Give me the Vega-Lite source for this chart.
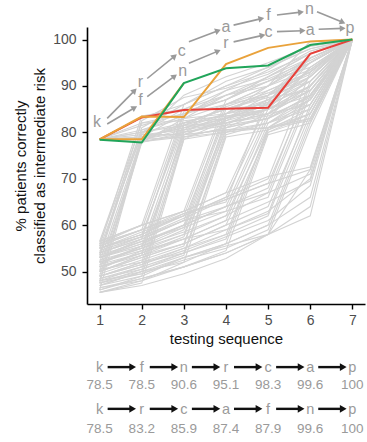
{
  "$schema": "https://vega.github.io/schema/vega-lite/v6.json",
  "width": 278,
  "height": 277,
  "autosize": {"type": "none"},
  "padding": {"left": 87, "top": 27, "right": 2, "bottom": 138},
  "config": {
    "view": {"stroke": null},
    "font": "Liberation Sans",
    "axis": {
      "grid": false,
      "domainColor": "#000000",
      "domainWidth": 1.6,
      "tickColor": "#000000",
      "tickWidth": 1.4,
      "tickSize": 5,
      "labelFont": "Liberation Sans",
      "labelFontSize": 14,
      "labelColor": "#4d4d4d",
      "titleFont": "Liberation Sans",
      "titleFontSize": 15,
      "titleFontWeight": "normal",
      "titleColor": "#111111"
    }
  },
  "datasets": {
    "gray": [
      {"id":"A1","x":1,"y":78.5},{"id":"A1","x":2,"y":78.5},{"id":"A1","x":3,"y":80.5},{"id":"A1","x":4,"y":83},{"id":"A1","x":5,"y":86},{"id":"A1","x":6,"y":92},{"id":"A1","x":7,"y":100},
      {"id":"A2","x":1,"y":78.5},{"id":"A2","x":2,"y":79},{"id":"A2","x":3,"y":81},{"id":"A2","x":4,"y":82},{"id":"A2","x":5,"y":84},{"id":"A2","x":6,"y":90},{"id":"A2","x":7,"y":100},
      {"id":"A3","x":1,"y":78.5},{"id":"A3","x":2,"y":80.5},{"id":"A3","x":3,"y":83},{"id":"A3","x":4,"y":88},{"id":"A3","x":5,"y":91},{"id":"A3","x":6,"y":96},{"id":"A3","x":7,"y":100},
      {"id":"A4","x":1,"y":78.5},{"id":"A4","x":2,"y":77.8},{"id":"A4","x":3,"y":80},{"id":"A4","x":4,"y":84},{"id":"A4","x":5,"y":89},{"id":"A4","x":6,"y":93},{"id":"A4","x":7,"y":100},
      {"id":"A5","x":1,"y":78.5},{"id":"A5","x":2,"y":83.2},{"id":"A5","x":3,"y":86},{"id":"A5","x":4,"y":90},{"id":"A5","x":5,"y":93},{"id":"A5","x":6,"y":97},{"id":"A5","x":7,"y":100},
      {"id":"A6","x":1,"y":78.5},{"id":"A6","x":2,"y":79.5},{"id":"A6","x":3,"y":88},{"id":"A6","x":4,"y":92},{"id":"A6","x":5,"y":95},{"id":"A6","x":6,"y":98.5},{"id":"A6","x":7,"y":100},
      {"id":"A7","x":1,"y":78.5},{"id":"A7","x":2,"y":78},{"id":"A7","x":3,"y":79.5},{"id":"A7","x":4,"y":80.5},{"id":"A7","x":5,"y":82},{"id":"A7","x":6,"y":86},{"id":"A7","x":7,"y":100},
      {"id":"A8","x":1,"y":78.5},{"id":"A8","x":2,"y":81.5},{"id":"A8","x":3,"y":84},{"id":"A8","x":4,"y":86},{"id":"A8","x":5,"y":88},{"id":"A8","x":6,"y":95},{"id":"A8","x":7,"y":100},
      {"id":"A9","x":1,"y":78.5},{"id":"A9","x":2,"y":78.5},{"id":"A9","x":3,"y":82},{"id":"A9","x":4,"y":85},{"id":"A9","x":5,"y":87.5},{"id":"A9","x":6,"y":89},{"id":"A9","x":7,"y":100},
      {"id":"A10","x":1,"y":78.5},{"id":"A10","x":2,"y":80},{"id":"A10","x":3,"y":85},{"id":"A10","x":4,"y":89},{"id":"A10","x":5,"y":93.5},{"id":"A10","x":6,"y":99},{"id":"A10","x":7,"y":100},
      {"id":"A11","x":1,"y":78.5},{"id":"A11","x":2,"y":79},{"id":"A11","x":3,"y":84},{"id":"A11","x":4,"y":87},{"id":"A11","x":5,"y":91},{"id":"A11","x":6,"y":94},{"id":"A11","x":7,"y":100},
      {"id":"A12","x":1,"y":78.5},{"id":"A12","x":2,"y":82},{"id":"A12","x":3,"y":82.5},{"id":"A12","x":4,"y":83.5},{"id":"A12","x":5,"y":85},{"id":"A12","x":6,"y":88},{"id":"A12","x":7,"y":100},
      {"id":"A13","x":1,"y":78.5},{"id":"A13","x":2,"y":78.5},{"id":"A13","x":3,"y":79},{"id":"A13","x":4,"y":81},{"id":"A13","x":5,"y":85},{"id":"A13","x":6,"y":97},{"id":"A13","x":7,"y":100},
      {"id":"A14","x":1,"y":78.5},{"id":"A14","x":2,"y":80},{"id":"A14","x":3,"y":81.5},{"id":"A14","x":4,"y":85.5},{"id":"A14","x":5,"y":88.5},{"id":"A14","x":6,"y":92.5},{"id":"A14","x":7,"y":100},
      {"id":"B1","x":1,"y":52},{"id":"B1","x":2,"y":79},{"id":"B1","x":3,"y":81},{"id":"B1","x":4,"y":83},{"id":"B1","x":5,"y":85},{"id":"B1","x":6,"y":90},{"id":"B1","x":7,"y":100},
      {"id":"B2","x":1,"y":54},{"id":"B2","x":2,"y":80},{"id":"B2","x":3,"y":82},{"id":"B2","x":4,"y":85},{"id":"B2","x":5,"y":88},{"id":"B2","x":6,"y":93},{"id":"B2","x":7,"y":100},
      {"id":"B3","x":1,"y":50},{"id":"B3","x":2,"y":78.5},{"id":"B3","x":3,"y":80},{"id":"B3","x":4,"y":81.5},{"id":"B3","x":5,"y":83},{"id":"B3","x":6,"y":88},{"id":"B3","x":7,"y":100},
      {"id":"B4","x":1,"y":56.5},{"id":"B4","x":2,"y":82},{"id":"B4","x":3,"y":84},{"id":"B4","x":4,"y":87},{"id":"B4","x":5,"y":92},{"id":"B4","x":6,"y":96},{"id":"B4","x":7,"y":100},
      {"id":"B5","x":1,"y":48},{"id":"B5","x":2,"y":77.8},{"id":"B5","x":3,"y":83},{"id":"B5","x":4,"y":86},{"id":"B5","x":5,"y":90},{"id":"B5","x":6,"y":95},{"id":"B5","x":7,"y":100},
      {"id":"B6","x":1,"y":53},{"id":"B6","x":2,"y":81},{"id":"B6","x":3,"y":86},{"id":"B6","x":4,"y":91},{"id":"B6","x":5,"y":94},{"id":"B6","x":6,"y":98},{"id":"B6","x":7,"y":100},
      {"id":"B7","x":1,"y":55},{"id":"B7","x":2,"y":79.5},{"id":"B7","x":3,"y":80.5},{"id":"B7","x":4,"y":82},{"id":"B7","x":5,"y":84},{"id":"B7","x":6,"y":86},{"id":"B7","x":7,"y":100},
      {"id":"B8","x":1,"y":51},{"id":"B8","x":2,"y":78},{"id":"B8","x":3,"y":79},{"id":"B8","x":4,"y":80},{"id":"B8","x":5,"y":81},{"id":"B8","x":6,"y":84},{"id":"B8","x":7,"y":100},
      {"id":"B9","x":1,"y":46},{"id":"B9","x":2,"y":78.5},{"id":"B9","x":3,"y":81.5},{"id":"B9","x":4,"y":84},{"id":"B9","x":5,"y":86.5},{"id":"B9","x":6,"y":91},{"id":"B9","x":7,"y":100},
      {"id":"B10","x":1,"y":55.5},{"id":"B10","x":2,"y":83.5},{"id":"B10","x":3,"y":85},{"id":"B10","x":4,"y":88},{"id":"B10","x":5,"y":90},{"id":"B10","x":6,"y":99.6},{"id":"B10","x":7,"y":100},
      {"id":"B11","x":1,"y":49},{"id":"B11","x":2,"y":78},{"id":"B11","x":3,"y":82},{"id":"B11","x":4,"y":83},{"id":"B11","x":5,"y":87},{"id":"B11","x":6,"y":92},{"id":"B11","x":7,"y":100},
      {"id":"B12","x":1,"y":56},{"id":"B12","x":2,"y":80.5},{"id":"B12","x":3,"y":83.5},{"id":"B12","x":4,"y":89},{"id":"B12","x":5,"y":91.5},{"id":"B12","x":6,"y":95.5},{"id":"B12","x":7,"y":100},
      {"id":"B13","x":1,"y":47.5},{"id":"B13","x":2,"y":79.5},{"id":"B13","x":3,"y":79.5},{"id":"B13","x":4,"y":82.5},{"id":"B13","x":5,"y":85},{"id":"B13","x":6,"y":89},{"id":"B13","x":7,"y":100},
      {"id":"B14","x":1,"y":53.5},{"id":"B14","x":2,"y":82.5},{"id":"B14","x":3,"y":87.5},{"id":"B14","x":4,"y":89.5},{"id":"B14","x":5,"y":92.5},{"id":"B14","x":6,"y":97.5},{"id":"B14","x":7,"y":100},
      {"id":"C1","x":1,"y":51},{"id":"C1","x":2,"y":54},{"id":"C1","x":3,"y":80},{"id":"C1","x":4,"y":82},{"id":"C1","x":5,"y":84},{"id":"C1","x":6,"y":89},{"id":"C1","x":7,"y":100},
      {"id":"C2","x":1,"y":46},{"id":"C2","x":2,"y":49},{"id":"C2","x":3,"y":79},{"id":"C2","x":4,"y":81},{"id":"C2","x":5,"y":83},{"id":"C2","x":6,"y":87},{"id":"C2","x":7,"y":100},
      {"id":"C3","x":1,"y":55},{"id":"C3","x":2,"y":58},{"id":"C3","x":3,"y":82},{"id":"C3","x":4,"y":85},{"id":"C3","x":5,"y":88},{"id":"C3","x":6,"y":92},{"id":"C3","x":7,"y":100},
      {"id":"C4","x":1,"y":49},{"id":"C4","x":2,"y":52},{"id":"C4","x":3,"y":81},{"id":"C4","x":4,"y":84},{"id":"C4","x":5,"y":90},{"id":"C4","x":6,"y":96},{"id":"C4","x":7,"y":100},
      {"id":"C5","x":1,"y":53},{"id":"C5","x":2,"y":57},{"id":"C5","x":3,"y":84},{"id":"C5","x":4,"y":88},{"id":"C5","x":5,"y":92},{"id":"C5","x":6,"y":97},{"id":"C5","x":7,"y":100},
      {"id":"C6","x":1,"y":47},{"id":"C6","x":2,"y":50},{"id":"C6","x":3,"y":78.5},{"id":"C6","x":4,"y":80},{"id":"C6","x":5,"y":82},{"id":"C6","x":6,"y":85},{"id":"C6","x":7,"y":100},
      {"id":"C7","x":1,"y":56},{"id":"C7","x":2,"y":60},{"id":"C7","x":3,"y":86},{"id":"C7","x":4,"y":90},{"id":"C7","x":5,"y":94},{"id":"C7","x":6,"y":98},{"id":"C7","x":7,"y":100},
      {"id":"C8","x":1,"y":52.5},{"id":"C8","x":2,"y":55},{"id":"C8","x":3,"y":79.5},{"id":"C8","x":4,"y":80.5},{"id":"C8","x":5,"y":81},{"id":"C8","x":6,"y":83},{"id":"C8","x":7,"y":100},
      {"id":"C9","x":1,"y":50},{"id":"C9","x":2,"y":53.5},{"id":"C9","x":3,"y":80.5},{"id":"C9","x":4,"y":86},{"id":"C9","x":5,"y":89},{"id":"C9","x":6,"y":93},{"id":"C9","x":7,"y":100},
      {"id":"C10","x":1,"y":54.5},{"id":"C10","x":2,"y":57.5},{"id":"C10","x":3,"y":83},{"id":"C10","x":4,"y":84},{"id":"C10","x":5,"y":85.5},{"id":"C10","x":6,"y":91},{"id":"C10","x":7,"y":100},
      {"id":"C11","x":1,"y":48.5},{"id":"C11","x":2,"y":51},{"id":"C11","x":3,"y":79.5},{"id":"C11","x":4,"y":83},{"id":"C11","x":5,"y":86},{"id":"C11","x":6,"y":90},{"id":"C11","x":7,"y":100},
      {"id":"C12","x":1,"y":55.5},{"id":"C12","x":2,"y":59},{"id":"C12","x":3,"y":84.5},{"id":"C12","x":4,"y":87},{"id":"C12","x":5,"y":91},{"id":"C12","x":6,"y":95},{"id":"C12","x":7,"y":100},
      {"id":"C13","x":1,"y":51.5},{"id":"C13","x":2,"y":55.5},{"id":"C13","x":3,"y":81.5},{"id":"C13","x":4,"y":82},{"id":"C13","x":5,"y":83.5},{"id":"C13","x":6,"y":87.5},{"id":"C13","x":7,"y":100},
      {"id":"C14","x":1,"y":45.5},{"id":"C14","x":2,"y":47.5},{"id":"C14","x":3,"y":78.5},{"id":"C14","x":4,"y":82.5},{"id":"C14","x":5,"y":87},{"id":"C14","x":6,"y":93.5},{"id":"C14","x":7,"y":100},
      {"id":"D1","x":1,"y":50},{"id":"D1","x":2,"y":53},{"id":"D1","x":3,"y":56},{"id":"D1","x":4,"y":81},{"id":"D1","x":5,"y":83},{"id":"D1","x":6,"y":88},{"id":"D1","x":7,"y":100},
      {"id":"D2","x":1,"y":54},{"id":"D2","x":2,"y":57},{"id":"D2","x":3,"y":61},{"id":"D2","x":4,"y":84},{"id":"D2","x":5,"y":87},{"id":"D2","x":6,"y":92},{"id":"D2","x":7,"y":100},
      {"id":"D3","x":1,"y":46.5},{"id":"D3","x":2,"y":48},{"id":"D3","x":3,"y":52},{"id":"D3","x":4,"y":79},{"id":"D3","x":5,"y":80.5},{"id":"D3","x":6,"y":84},{"id":"D3","x":7,"y":100},
      {"id":"D4","x":1,"y":52},{"id":"D4","x":2,"y":55},{"id":"D4","x":3,"y":59},{"id":"D4","x":4,"y":82},{"id":"D4","x":5,"y":85},{"id":"D4","x":6,"y":90},{"id":"D4","x":7,"y":100},
      {"id":"D5","x":1,"y":48},{"id":"D5","x":2,"y":51},{"id":"D5","x":3,"y":54},{"id":"D5","x":4,"y":80},{"id":"D5","x":5,"y":84},{"id":"D5","x":6,"y":94},{"id":"D5","x":7,"y":100},
      {"id":"D6","x":1,"y":56},{"id":"D6","x":2,"y":59},{"id":"D6","x":3,"y":63},{"id":"D6","x":4,"y":87},{"id":"D6","x":5,"y":92},{"id":"D6","x":6,"y":97},{"id":"D6","x":7,"y":100},
      {"id":"D7","x":1,"y":51.5},{"id":"D7","x":2,"y":54},{"id":"D7","x":3,"y":57.5},{"id":"D7","x":4,"y":80.5},{"id":"D7","x":5,"y":81},{"id":"D7","x":6,"y":82.5},{"id":"D7","x":7,"y":100},
      {"id":"D8","x":1,"y":49.5},{"id":"D8","x":2,"y":52.5},{"id":"D8","x":3,"y":55.5},{"id":"D8","x":4,"y":83},{"id":"D8","x":5,"y":88},{"id":"D8","x":6,"y":91},{"id":"D8","x":7,"y":100},
      {"id":"D9","x":1,"y":53.5},{"id":"D9","x":2,"y":56.5},{"id":"D9","x":3,"y":60},{"id":"D9","x":4,"y":85},{"id":"D9","x":5,"y":86},{"id":"D9","x":6,"y":95},{"id":"D9","x":7,"y":100},
      {"id":"D10","x":1,"y":47.5},{"id":"D10","x":2,"y":50.5},{"id":"D10","x":3,"y":53.5},{"id":"D10","x":4,"y":79.5},{"id":"D10","x":5,"y":82},{"id":"D10","x":6,"y":87},{"id":"D10","x":7,"y":100},
      {"id":"D11","x":1,"y":55},{"id":"D11","x":2,"y":58.5},{"id":"D11","x":3,"y":62},{"id":"D11","x":4,"y":86},{"id":"D11","x":5,"y":90},{"id":"D11","x":6,"y":93.5},{"id":"D11","x":7,"y":100},
      {"id":"D12","x":1,"y":50.5},{"id":"D12","x":2,"y":54.5},{"id":"D12","x":3,"y":58},{"id":"D12","x":4,"y":81.5},{"id":"D12","x":5,"y":86.5},{"id":"D12","x":6,"y":96},{"id":"D12","x":7,"y":100},
      {"id":"D13","x":1,"y":53},{"id":"D13","x":2,"y":55.5},{"id":"D13","x":3,"y":59.5},{"id":"D13","x":4,"y":83.5},{"id":"D13","x":5,"y":84},{"id":"D13","x":6,"y":89},{"id":"D13","x":7,"y":100},
      {"id":"E1","x":1,"y":49},{"id":"E1","x":2,"y":52},{"id":"E1","x":3,"y":55},{"id":"E1","x":4,"y":58},{"id":"E1","x":5,"y":80.5},{"id":"E1","x":6,"y":85},{"id":"E1","x":7,"y":100},
      {"id":"E2","x":1,"y":53},{"id":"E2","x":2,"y":56},{"id":"E2","x":3,"y":60},{"id":"E2","x":4,"y":64},{"id":"E2","x":5,"y":84},{"id":"E2","x":6,"y":90},{"id":"E2","x":7,"y":100},
      {"id":"E3","x":1,"y":47},{"id":"E3","x":2,"y":49},{"id":"E3","x":3,"y":53},{"id":"E3","x":4,"y":56},{"id":"E3","x":5,"y":80},{"id":"E3","x":6,"y":84},{"id":"E3","x":7,"y":100},
      {"id":"E4","x":1,"y":55},{"id":"E4","x":2,"y":58},{"id":"E4","x":3,"y":62},{"id":"E4","x":4,"y":66},{"id":"E4","x":5,"y":85},{"id":"E4","x":6,"y":94},{"id":"E4","x":7,"y":100},
      {"id":"E5","x":1,"y":51},{"id":"E5","x":2,"y":54},{"id":"E5","x":3,"y":57},{"id":"E5","x":4,"y":61},{"id":"E5","x":5,"y":82},{"id":"E5","x":6,"y":88},{"id":"E5","x":7,"y":100},
      {"id":"E6","x":1,"y":45.5},{"id":"E6","x":2,"y":48},{"id":"E6","x":3,"y":51},{"id":"E6","x":4,"y":54.5},{"id":"E6","x":5,"y":79.5},{"id":"E6","x":6,"y":82},{"id":"E6","x":7,"y":100},
      {"id":"E7","x":1,"y":56},{"id":"E7","x":2,"y":59},{"id":"E7","x":3,"y":62.5},{"id":"E7","x":4,"y":65},{"id":"E7","x":5,"y":88},{"id":"E7","x":6,"y":96},{"id":"E7","x":7,"y":100},
      {"id":"E8","x":1,"y":52},{"id":"E8","x":2,"y":55.5},{"id":"E8","x":3,"y":58.5},{"id":"E8","x":4,"y":62},{"id":"E8","x":5,"y":81},{"id":"E8","x":6,"y":86},{"id":"E8","x":7,"y":100},
      {"id":"E9","x":1,"y":48.5},{"id":"E9","x":2,"y":50.5},{"id":"E9","x":3,"y":54},{"id":"E9","x":4,"y":57},{"id":"E9","x":5,"y":81},{"id":"E9","x":6,"y":87},{"id":"E9","x":7,"y":100},
      {"id":"E10","x":1,"y":54},{"id":"E10","x":2,"y":57.5},{"id":"E10","x":3,"y":61},{"id":"E10","x":4,"y":63},{"id":"E10","x":5,"y":83},{"id":"E10","x":6,"y":92},{"id":"E10","x":7,"y":100},
      {"id":"E11","x":1,"y":50},{"id":"E11","x":2,"y":53.5},{"id":"E11","x":3,"y":56},{"id":"E11","x":4,"y":60},{"id":"E11","x":5,"y":80},{"id":"E11","x":6,"y":83},{"id":"E11","x":7,"y":100},
      {"id":"E12","x":1,"y":56.5},{"id":"E12","x":2,"y":60},{"id":"E12","x":3,"y":63},{"id":"E12","x":4,"y":67},{"id":"E12","x":5,"y":86.5},{"id":"E12","x":6,"y":97},{"id":"E12","x":7,"y":100},
      {"id":"F1","x":1,"y":50},{"id":"F1","x":2,"y":53},{"id":"F1","x":3,"y":56},{"id":"F1","x":4,"y":60},{"id":"F1","x":5,"y":64},{"id":"F1","x":6,"y":85},{"id":"F1","x":7,"y":100},
      {"id":"F2","x":1,"y":52},{"id":"F2","x":2,"y":55},{"id":"F2","x":3,"y":58},{"id":"F2","x":4,"y":62},{"id":"F2","x":5,"y":67},{"id":"F2","x":6,"y":89},{"id":"F2","x":7,"y":100},
      {"id":"F3","x":1,"y":48},{"id":"F3","x":2,"y":50},{"id":"F3","x":3,"y":53},{"id":"F3","x":4,"y":56},{"id":"F3","x":5,"y":60},{"id":"F3","x":6,"y":83},{"id":"F3","x":7,"y":100},
      {"id":"F4","x":1,"y":54},{"id":"F4","x":2,"y":57},{"id":"F4","x":3,"y":61},{"id":"F4","x":4,"y":64},{"id":"F4","x":5,"y":68},{"id":"F4","x":6,"y":91},{"id":"F4","x":7,"y":100},
      {"id":"F5","x":1,"y":46},{"id":"F5","x":2,"y":48.5},{"id":"F5","x":3,"y":51},{"id":"F5","x":4,"y":54},{"id":"F5","x":5,"y":58},{"id":"F5","x":6,"y":81},{"id":"F5","x":7,"y":100},
      {"id":"F6","x":1,"y":55.5},{"id":"F6","x":2,"y":59},{"id":"F6","x":3,"y":62},{"id":"F6","x":4,"y":66},{"id":"F6","x":5,"y":70},{"id":"F6","x":6,"y":93},{"id":"F6","x":7,"y":100},
      {"id":"F7","x":1,"y":51},{"id":"F7","x":2,"y":53.5},{"id":"F7","x":3,"y":57},{"id":"F7","x":4,"y":59},{"id":"F7","x":5,"y":62.5},{"id":"F7","x":6,"y":86},{"id":"F7","x":7,"y":100},
      {"id":"F8","x":1,"y":49},{"id":"F8","x":2,"y":51.5},{"id":"F8","x":3,"y":54.5},{"id":"F8","x":4,"y":58},{"id":"F8","x":5,"y":62},{"id":"F8","x":6,"y":84},{"id":"F8","x":7,"y":100},
      {"id":"F9","x":1,"y":53},{"id":"F9","x":2,"y":56.5},{"id":"F9","x":3,"y":59.5},{"id":"F9","x":4,"y":63},{"id":"F9","x":5,"y":66},{"id":"F9","x":6,"y":88},{"id":"F9","x":7,"y":100},
      {"id":"F10","x":1,"y":47.5},{"id":"F10","x":2,"y":49.5},{"id":"F10","x":3,"y":52.5},{"id":"F10","x":4,"y":55},{"id":"F10","x":5,"y":59},{"id":"F10","x":6,"y":82},{"id":"F10","x":7,"y":100},
      {"id":"F11","x":1,"y":55},{"id":"F11","x":2,"y":58},{"id":"F11","x":3,"y":62.5},{"id":"F11","x":4,"y":65.5},{"id":"F11","x":5,"y":69},{"id":"F11","x":6,"y":90},{"id":"F11","x":7,"y":100},
      {"id":"G1","x":1,"y":45.5},{"id":"G1","x":2,"y":47},{"id":"G1","x":3,"y":49.5},{"id":"G1","x":4,"y":52.8},{"id":"G1","x":5,"y":58},{"id":"G1","x":6,"y":72},{"id":"G1","x":7,"y":100},
      {"id":"G2","x":1,"y":49},{"id":"G2","x":2,"y":51.5},{"id":"G2","x":3,"y":55},{"id":"G2","x":4,"y":59},{"id":"G2","x":5,"y":63},{"id":"G2","x":6,"y":70},{"id":"G2","x":7,"y":100},
      {"id":"G3","x":1,"y":53},{"id":"G3","x":2,"y":56},{"id":"G3","x":3,"y":60},{"id":"G3","x":4,"y":64},{"id":"G3","x":5,"y":67},{"id":"G3","x":6,"y":71},{"id":"G3","x":7,"y":100},
      {"id":"G4","x":1,"y":56.5},{"id":"G4","x":2,"y":60},{"id":"G4","x":3,"y":63},{"id":"G4","x":4,"y":67},{"id":"G4","x":5,"y":70.5},{"id":"G4","x":6,"y":72.5},{"id":"G4","x":7,"y":100},
      {"id":"G5","x":1,"y":47},{"id":"G5","x":2,"y":50},{"id":"G5","x":3,"y":52},{"id":"G5","x":4,"y":56},{"id":"G5","x":5,"y":60},{"id":"G5","x":6,"y":66},{"id":"G5","x":7,"y":100},
      {"id":"G6","x":1,"y":50.5},{"id":"G6","x":2,"y":52},{"id":"G6","x":3,"y":54},{"id":"G6","x":4,"y":57.5},{"id":"G6","x":5,"y":61},{"id":"G6","x":6,"y":68.5},{"id":"G6","x":7,"y":100},
      {"id":"G7","x":1,"y":46.5},{"id":"G7","x":2,"y":48.5},{"id":"G7","x":3,"y":51},{"id":"G7","x":4,"y":54},{"id":"G7","x":5,"y":58},{"id":"G7","x":6,"y":64},{"id":"G7","x":7,"y":100},
      {"id":"G8","x":1,"y":52},{"id":"G8","x":2,"y":54.5},{"id":"G8","x":3,"y":57},{"id":"G8","x":4,"y":61},{"id":"G8","x":5,"y":65},{"id":"G8","x":6,"y":69.5},{"id":"G8","x":7,"y":100},
      {"id":"G9","x":1,"y":55},{"id":"G9","x":2,"y":57.5},{"id":"G9","x":3,"y":61.5},{"id":"G9","x":4,"y":65.5},{"id":"G9","x":5,"y":69},{"id":"G9","x":6,"y":72},{"id":"G9","x":7,"y":100},
      {"id":"G10","x":1,"y":48},{"id":"G10","x":2,"y":49.5},{"id":"G10","x":3,"y":53},{"id":"G10","x":4,"y":55.5},{"id":"G10","x":5,"y":58},{"id":"G10","x":6,"y":62},{"id":"G10","x":7,"y":100}
    ],
    "hi": [
      {"s":"red","x":1,"y":78.5},{"s":"red","x":2,"y":83.2},{"s":"red","x":3,"y":84.8},{"s":"red","x":4,"y":85.1},{"s":"red","x":5,"y":85.3},{"s":"red","x":6,"y":96.9},{"s":"red","x":7,"y":100},
      {"s":"orange","x":1,"y":78.5},{"s":"orange","x":2,"y":83.4},{"s":"orange","x":3,"y":83.3},{"s":"orange","x":4,"y":94.7},{"s":"orange","x":5,"y":98.2},{"s":"orange","x":6,"y":99.6},{"s":"orange","x":7,"y":100},
      {"s":"orange2","x":1,"y":78.5},{"s":"orange2","x":2,"y":78.5},{"s":"orange2","x":3,"y":90.6},
      {"s":"green","x":1,"y":78.4},{"s":"green","x":2,"y":77.8},{"s":"green","x":3,"y":90.6},{"s":"green","x":4,"y":93.8},{"s":"green","x":5,"y":94.4},{"s":"green","x":6,"y":98.8},{"s":"green","x":7,"y":100}
    ],
    "letters": [
      {"t":"k","x":0.94,"y":82.2},
      {"t":"r","x":1.97,"y":90.9},{"t":"c","x":2.95,"y":97.6},{"t":"a","x":4.0,"y":102.7},{"t":"f","x":5.01,"y":105.3},{"t":"n","x":5.98,"y":106.6},
      {"t":"f","x":1.97,"y":86.9},{"t":"n","x":2.97,"y":93.3},{"t":"r","x":4.0,"y":99.3},{"t":"c","x":5.01,"y":101.7},{"t":"a","x":6.0,"y":102.1},
      {"t":"p","x":6.94,"y":102.5}
    ],
    "arrows": [
      {"x":1.18,"y":83.0,"x2":1.83,"y2":89.0,"a":314},
      {"x":1.18,"y":81.8,"x2":1.83,"y2":85.3,"a":329},
      {"x":2.13,"y":91.6,"x2":2.78,"y2":96.4,"a":320},
      {"x":2.13,"y":87.7,"x2":2.78,"y2":92.1,"a":322},
      {"x":3.12,"y":99.5,"x2":3.81,"y2":101.9,"a":339},
      {"x":3.12,"y":94.9,"x2":3.81,"y2":97.5,"a":336},
      {"x":4.18,"y":103.1,"x2":4.84,"y2":104.5,"a":347},
      {"x":4.18,"y":99.5,"x2":4.87,"y2":100.9,"a":347},
      {"x":5.21,"y":105.3,"x2":5.78,"y2":105.9,"a":352},
      {"x":5.21,"y":101.7,"x2":5.82,"y2":101.9,"a":358},
      {"x":6.16,"y":106.0,"x2":6.77,"y2":103.7,"a":24},
      {"x":6.2,"y":102.2,"x2":6.77,"y2":102.4,"a":358}
    ],
    "seqs": [
      {"row":1,"x":1,"t":"k","v":"78.5"},{"row":1,"x":2,"t":"f","v":"78.5"},{"row":1,"x":3,"t":"n","v":"90.6"},{"row":1,"x":4,"t":"r","v":"95.1"},{"row":1,"x":5,"t":"c","v":"98.3"},{"row":1,"x":6,"t":"a","v":"99.6"},{"row":1,"x":7,"t":"p","v":"100"},
      {"row":2,"x":1,"t":"k","v":"78.5"},{"row":2,"x":2,"t":"r","v":"83.2"},{"row":2,"x":3,"t":"c","v":"85.9"},{"row":2,"x":4,"t":"a","v":"87.4"},{"row":2,"x":5,"t":"f","v":"87.9"},{"row":2,"x":6,"t":"n","v":"99.6"},{"row":2,"x":7,"t":"p","v":"100"}
    ]
  },
  "encoding": {
    "x": {"field": "x", "type": "quantitative",
      "scale": {"domain": [0.7, 7.3], "nice": false, "zero": false},
      "axis": {"values": [1,2,3,4,5,6,7], "title": "testing sequence", "labelPadding": 4, "titlePadding": 4, "labelFlush": false}}
  },
  "layer": [
    {"data": {"name": "gray"}, "mark": {"type": "line", "color": "#d3d3d3", "strokeWidth": 1.1},
      "encoding": {"detail": {"field": "id"},
        "y": {"field": "y", "type": "quantitative",
          "scale": {"domain": [43, 102.7], "nice": false, "zero": false},
          "axis": {"values": [50,60,70,80,90,100], "title": ["% patients correctly", "classified as intermediate risk"], "labelPadding": 6, "titlePadding": 5, "titleLineHeight": 19, "labelFlush": false}}}},
    {"data": {"name": "hi"}, "transform": [{"filter": "datum.s == 'red'"}], "mark": {"type": "line", "color": "#e8403a", "strokeWidth": 2}, "encoding": {"y": {"field": "y", "type": "quantitative"}}},
    {"data": {"name": "hi"}, "transform": [{"filter": "datum.s == 'orange' || datum.s == 'orange2'"}], "mark": {"type": "line", "color": "#e9a23b", "strokeWidth": 2}, "encoding": {"detail": {"field": "s"}, "y": {"field": "y", "type": "quantitative"}}},
    {"data": {"name": "hi"}, "transform": [{"filter": "datum.s == 'green'"}], "mark": {"type": "line", "color": "#21a55a", "strokeWidth": 2}, "encoding": {"y": {"field": "y", "type": "quantitative"}}},
    {"data": {"name": "arrows"}, "mark": {"type": "rule", "color": "#9a9a9a", "strokeWidth": 1.6}, "encoding": {"y": {"field": "y", "type": "quantitative"}, "x2": {"field": "x2"}, "y2": {"field": "y2"}}},
    {"data": {"name": "arrows"}, "mark": {"type": "point", "shape": "triangle-right", "filled": true, "color": "#9a9a9a", "opacity": 1, "size": 45}, "encoding": {"x": {"field": "x2", "type": "quantitative"}, "y": {"field": "y2", "type": "quantitative"}, "angle": {"field": "a", "type": "quantitative", "scale": null}}},
    {"data": {"name": "letters"}, "mark": {"type": "text", "color": "#9a9a9a", "fontSize": 16, "baseline": "middle", "align": "center"}, "encoding": {"y": {"field": "y", "type": "quantitative"}, "text": {"field": "t"}}},
    {"data": {"name": "seqs"}, "transform": [{"filter": "datum.row == 1"}], "mark": {"type": "text", "color": "#9a9a9a", "fontSize": 14.5, "baseline": "alphabetic", "align": "center"}, "encoding": {"y": {"datum": 28.4}, "text": {"field": "t"}}},
    {"data": {"name": "seqs"}, "transform": [{"filter": "datum.row == 1"}], "mark": {"type": "text", "color": "#9a9a9a", "fontSize": 13.5, "baseline": "alphabetic", "align": "center"}, "encoding": {"y": {"datum": 24.6}, "text": {"field": "v"}}},
    {"data": {"name": "seqs"}, "transform": [{"filter": "datum.row == 2"}], "mark": {"type": "text", "color": "#9a9a9a", "fontSize": 14.5, "baseline": "alphabetic", "align": "center"}, "encoding": {"y": {"datum": 19.2}, "text": {"field": "t"}}},
    {"data": {"name": "seqs"}, "transform": [{"filter": "datum.row == 2"}], "mark": {"type": "text", "color": "#9a9a9a", "fontSize": 13.5, "baseline": "alphabetic", "align": "center"}, "encoding": {"y": {"datum": 15.3}, "text": {"field": "v"}}},
    {"data": {"name": "seqs"}, "transform": [{"filter": "datum.row == 1 && datum.x < 7"}], "mark": {"type": "rule", "color": "#111111", "strokeWidth": 2.4, "xOffset": 8, "x2Offset": 32}, "encoding": {"x2": {"field": "x"}, "y": {"datum": 29.4}}},
    {"data": {"name": "seqs"}, "transform": [{"filter": "datum.row == 1 && datum.x < 7"}], "mark": {"type": "point", "shape": "triangle-right", "filled": true, "color": "#111111", "opacity": 1, "size": 60, "xOffset": 33}, "encoding": {"y": {"datum": 29.4}}},
    {"data": {"name": "seqs"}, "transform": [{"filter": "datum.row == 2 && datum.x < 7"}], "mark": {"type": "rule", "color": "#111111", "strokeWidth": 2.4, "xOffset": 8, "x2Offset": 32}, "encoding": {"x2": {"field": "x"}, "y": {"datum": 20.4}}},
    {"data": {"name": "seqs"}, "transform": [{"filter": "datum.row == 2 && datum.x < 7"}], "mark": {"type": "point", "shape": "triangle-right", "filled": true, "color": "#111111", "opacity": 1, "size": 60, "xOffset": 33}, "encoding": {"y": {"datum": 20.4}}}
  ]
}
